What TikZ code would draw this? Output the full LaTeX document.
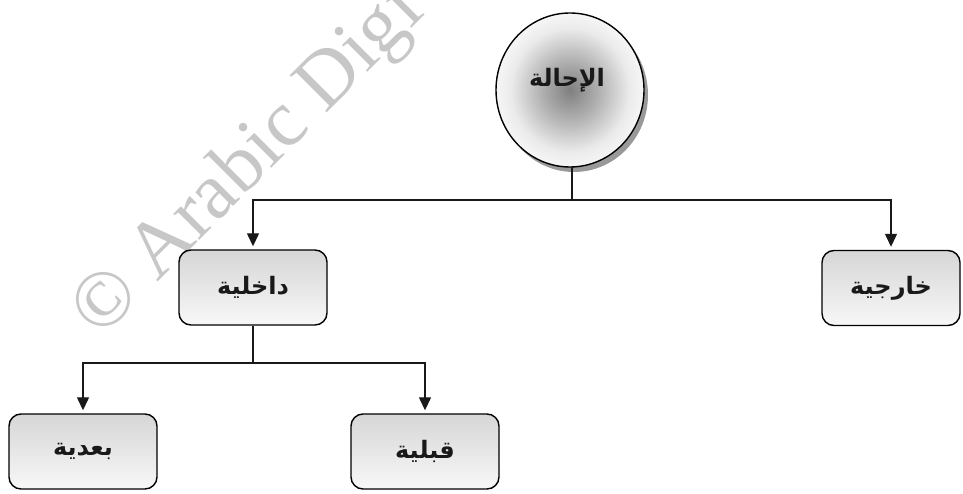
\documentclass[tikz,border=0pt]{standalone}
\usepackage{fontspec}
\usetikzlibrary{shapes.geometric,arrows.meta}
\TeXXeTstate=1
\newfontfamily\arabicfont[Script=Arabic]{DejaVu Sans}
\newfontfamily\wmfont{Liberation Serif}
\pgfdeclareradialshading{ballsh}{\pgfpoint{0bp}{0bp}}{color(0bp)=(black!50); color(10bp)=(black!30); color(20bp)=(black!8); color(29bp)=(white); color(50bp)=(white)}
\tikzset{
  boxnode/.style={draw=black, line width=1.4pt, rounded corners=12pt, minimum width=148pt, minimum height=75pt, top color=black!16, bottom color=black!3, inner sep=0pt},
  lbl/.style={font=\arabicfont\bfseries\fontsize{24}{28}\selectfont, text=black!90},
  conn/.style={draw=black!90, line width=1.3pt},
  arr/.style={conn, -{Triangle[length=13pt,width=12pt]}, shorten >=3pt},
}
\begin{document}
\begin{tikzpicture}[x=1pt,y=-1pt]
\useasboundingbox (0,0) rectangle (963,494);
\begin{scope}
\clip (0,0) rectangle (963,494);
\node[rotate=45, anchor=base west, text=black!22, font=\wmfont\fontsize{80}{80}\selectfont, inner sep=0pt] (wm) at (100,340) {© Arabic Digi};
\end{scope}
% root
\fill[black!40] (574,95) ellipse (74 and 77);
\node[ellipse, draw=black, line width=1.4pt, minimum width=148pt, minimum height=154pt, shading=ballsh, inner sep=0pt] (root) at (570,90) {};
\node[lbl] (rootlbl) at (567,80) {\beginR الإحالة\endR};
% boxes
\node[boxnode] (dakh) at (253,287.5) {};
\node[lbl] (dakhlbl) at (dakh.center) {\beginR داخلية\endR};
\node[boxnode, minimum width=138pt] (khar) at (891,288) {};
\node[lbl] (kharlbl) at (khar.center) {\beginR خارجية\endR};
\node[boxnode] (baad) at (83,451.5) {};
\node[lbl] (baadlbl) at (baad.center) {\beginR بعدية\endR};
\node[boxnode] (qabl) at (425,451.5) {};
\node[lbl] (qabllbl) at (qabl.center) {\beginR قبلية\endR};
% connectors
\coordinate (j1) at (572,200);
\draw[conn] (572,167) -- (j1);
\draw[arr] (j1) -| (dakh.north);
\draw[arr] (j1) -| (khar.north);
\coordinate (j2) at (253,363);
\draw[conn] (dakh.south) -- (j2);
\draw[arr] (j2) -| (baad.north);
\draw[arr] (j2) -| (qabl.north);
\end{tikzpicture}
\end{document}
